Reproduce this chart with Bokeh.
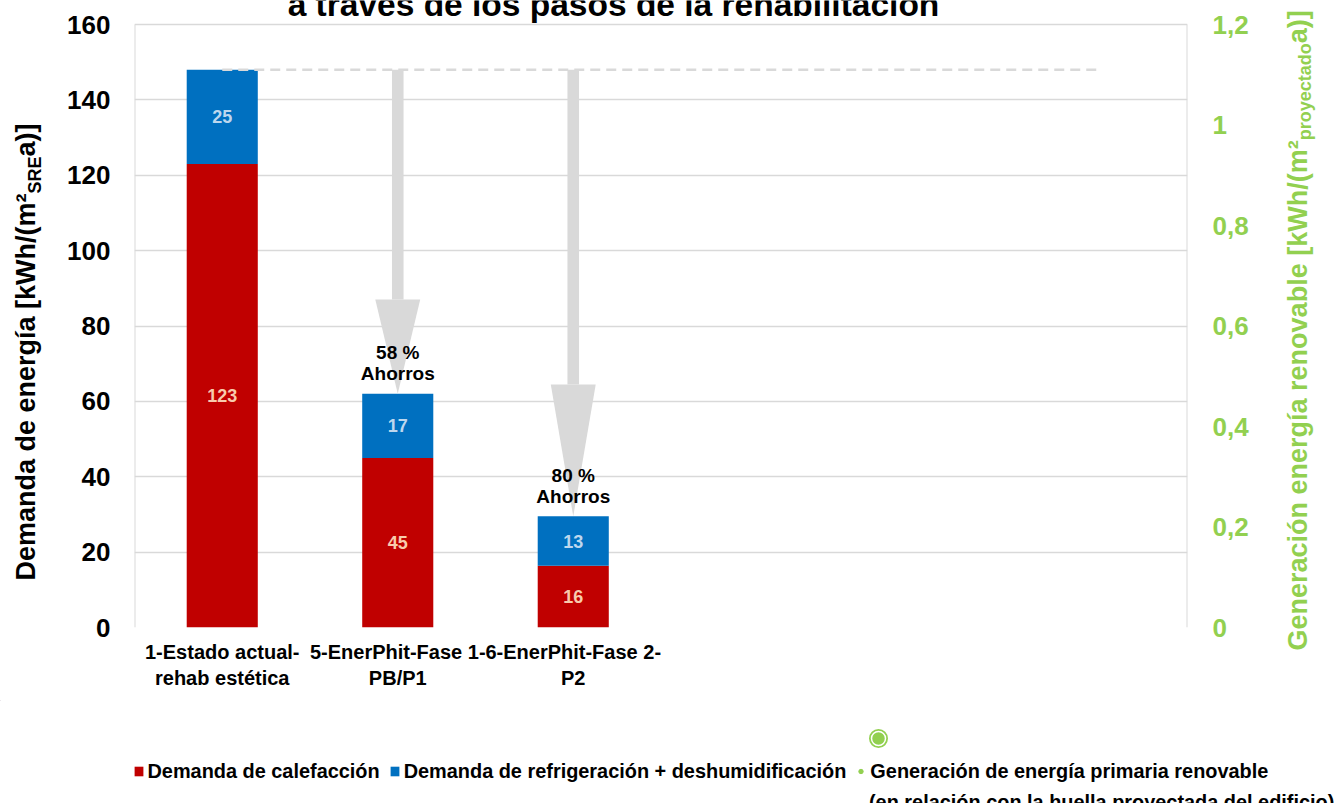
import math
from bokeh.plotting import figure
from bokeh.layouts import column, row
from bokeh.models import (Range1d, LinearAxis, FixedTicker, CustomJSTickFormatter, Label,
                          Legend, LegendItem, ColumnDataSource)
from bokeh.embed import file_html
from bokeh.resources import INLINE
from bokeh.core.properties import value

# ---------------- data ----------------
categories = ["1-Estado actual-\nrehab estética", "5-EnerPhit-Fase 1-\nPB/P1", "6-EnerPhit-Fase 2-\nP2"]
n_slots = 6  # category slots on the x axis (last three empty)
heating = [123, 45, 16.4]          # Demanda de calefacción
cooling = [25, 17, 13.1]           # Demanda de refrigeración + deshumidificación
renewable = [None, None, None]     # Generación de energía primaria renovable (no values shown)
left_ticks = [0, 20, 40, 60, 80, 100, 120, 140, 160]
right_ticks = [0, 0.2, 0.4, 0.6, 0.8, 1.0, 1.2]

title_text = "a través de los pasos de la rehabilitación"
left_title = [("Demanda de energía [kWh/(m²", "main"), ("SRE", "sub"), ("a)]", "main")]
right_title = [("Generación energía renovable [kWh/(m²", "main"), ("proyectado", "sub"), ("a)]", "main")]
legend_labels = ["Demanda de calefacción", "Demanda de refrigeración + deshumidificación",
                 "Generación de energía primaria renovable"]
legend_line2 = "(en relación con la huella proyectada del edificio)"

# ---------------- style / layout ----------------
FONT = "Liberation Sans"
RED, BLUE, GREEN, GREY = "#c00000", "#0070c0", "#92d050", "#d9d9d9"
W, H_TOTAL = 1337, 803
H_MAIN = 700                               # chart row; legend strip below it
W_LT, W_RT = 60, 77                        # strips holding the axis titles
FL, FR, FB, FT = 134, 1187, 627, 24        # plot-area edges in page px
PPU = (FB - FT) / (left_ticks[-1] - left_ticks[0])   # px per left-axis unit
y_top = left_ticks[-1] + FT / PPU                    # frame reaches canvas top (room for the title)
r_top = right_ticks[-1] * y_top / left_ticks[-1]

xs = [i + 0.5 for i in range(len(categories))]
totals = [h + c for h, c in zip(heating, cooling)]

W_MAIN = W - W_LT - W_RT
p = figure(width=W_MAIN, height=H_MAIN, x_range=Range1d(0, n_slots), y_range=Range1d(0, y_top),
           output_backend="svg", toolbar_location=None,
           min_border_left=FL - W_LT, min_border_right=W - W_RT - FR, min_border_top=0,
           min_border_bottom=H_MAIN - FB)
p.extra_y_ranges = {"ren": Range1d(0, r_top)}
p.outline_line_color = None
p.xgrid.visible = False
p.ygrid.grid_line_color = GREY
p.ygrid.grid_line_width = 1.3
p.ygrid.ticker = FixedTicker(ticks=left_ticks)


def style_axis(ax, size, color, standoff):
    ax.axis_line_color = None
    ax.major_tick_line_color = None
    ax.minor_tick_line_color = None
    ax.major_tick_out = 0
    ax.minor_tick_out = 0
    ax.major_label_standoff = standoff
    ax.major_label_text_font = FONT
    ax.major_label_text_font_style = "bold"
    ax.major_label_text_font_size = size
    ax.major_label_text_color = color


# left tick axis
ly = p.yaxis[0]
ly.ticker = FixedTicker(ticks=left_ticks)
style_axis(ly, "26px", "black", 24)

# x axis
bx = p.xaxis[0]
bx.ticker = FixedTicker(ticks=xs)
bx.formatter = CustomJSTickFormatter(args=dict(labels=categories),
                                     code="const i = Math.floor(tick); return (i < labels.length) ? labels[i] : '';")
style_axis(bx, "20px", "black", 13)

# right tick axis
ry = LinearAxis(y_range_name="ren", ticker=FixedTicker(ticks=right_ticks),
                formatter=CustomJSTickFormatter(code="return tick.toFixed(1).replace(/\\.0$/, '').replace('.', ',');"))
style_axis(ry, "26px", GREEN, 25)
p.add_layout(ry, "right")

# plot-area side borders
p.segment(x0=[0, n_slots], y0=[0, 0], x1=[0, n_slots], y1=[left_ticks[-1]] * 2, line_color=GREY, line_width=2)

# ---------------- bars ----------------
src = ColumnDataSource(dict(x=xs, heat=heating, tot=totals, cool=cooling,
                            heat_mid=[h / 2 for h in heating],
                            cool_mid=[h + c / 2 for h, c in zip(heating, cooling)],
                            heat_txt=[f"{h:.0f}" for h in heating],
                            cool_txt=[f"{c:.0f}" for c in cooling]))
BW = 0.405
r_red = p.vbar(x="x", bottom=0, top="heat", width=BW, source=src, fill_color=RED, line_color=None)
r_blue = p.vbar(x="x", bottom="heat", top="tot", width=BW, source=src, fill_color=BLUE, line_color=None)
gx = [x for x, v in zip(xs, renewable) if v is not None]
gy = [v for v in renewable if v is not None]
r_green = p.scatter(x=gx, y=gy, y_range_name="ren", size=4, color=GREEN)

# dashed reference line at the initial total
p.line(x=[xs[0], n_slots - 0.5], y=[totals[0], totals[0]], line_color=GREY, line_width=2.5, line_dash="10 6")

# savings arrows
shaft_w, head_w = 0.066, 0.256
head_len = [25, 35]
for i in range(1, len(categories)):
    x = xs[i]
    base = totals[i] + head_len[i - 1]
    p.quad(left=x - shaft_w / 2, right=x + shaft_w / 2, bottom=base, top=totals[0], fill_color=GREY, line_color=None)
    p.patch(x=[x - head_w / 2, x + head_w / 2, x], y=[base, base, totals[i]], fill_color=GREY, line_color=None)

# data labels
p.text(x="x", y="heat_mid", text="heat_txt", source=src, text_font=value(FONT), text_font_style="bold",
       text_font_size="18px", text_color="#f8cbad", text_align="center", text_baseline="middle")
p.text(x="x", y="cool_mid", text="cool_txt", source=src, text_font=value(FONT), text_font_style="bold",
       text_font_size="18px", text_color="#bdd7ee", text_align="center", text_baseline="middle")

# savings labels
sav_x, sav_y1, sav_y2, sav_t1, sav_t2 = [], [], [], [], []
for i in range(1, len(categories)):
    pct = round((1 - totals[i] / totals[0]) * 100)
    sav_x.append(xs[i])
    sav_y1.append(totals[i] + 41 / PPU)
    sav_y2.append(totals[i] + 20 / PPU)
    sav_t1.append(f"{pct} %")
    sav_t2.append("Ahorros")
for yy, tt in ((sav_y1, sav_t1), (sav_y2, sav_t2)):
    p.text(x=sav_x, y=yy, text=tt, text_font=value(FONT), text_font_style="bold", text_font_size="19px",
           text_color="black", text_align="center", text_baseline="middle")

# chart title (cut at the top edge, as in the reference)
p.add_layout(Label(x=613 - FL, y=FB - 4, x_units="screen", y_units="screen", text=title_text,
                   text_font=FONT, text_font_size="33.5px", text_font_style="bold", text_color="black",
                   text_align="center", text_baseline="alphabetic"))

# ---------------- axis-title strips (rotated text with subscripts) ----------------
AB = {' ': 278, 'D': 722, 'e': 556, 'm': 889, 'a': 556, 'n': 611, 'd': 611, 'g': 611, 'r': 389, 'í': 278,
      '[': 333, 'k': 556, 'W': 944, 'h': 611, '/': 278, '(': 333, '²': 333, 'S': 667, 'R': 722, 'E': 667,
      ')': 333, ']': 333, 'G': 778, 'c': 556, 'i': 278, 'ó': 611, 'o': 611, 'v': 556, 'b': 611, 'l': 278,
      'p': 611, 'y': 556, 't': 333}
SIZES = {"main": 27, "sub": 18}
BASE_SHIFT = 0.25   # observed offset of the rendered baseline (em)


def title_strip(width, parts, base_x, start_y, sub_dx, color):
    f = figure(width=width, height=H_MAIN, x_range=Range1d(0, width), y_range=Range1d(0, H_MAIN),
               output_backend="svg", toolbar_location=None, x_axis_location=None, y_axis_location=None,
               min_border=0)
    f.outline_line_color = None
    f.grid.visible = False
    y = H_MAIN - start_y
    for txt, kind in parts:
        size = SIZES[kind]
        bx_ = base_x + (sub_dx if kind == "sub" else 0) - BASE_SHIFT * size
        f.add_layout(Label(x=bx_, y=y, x_units="screen", y_units="screen", text=txt, angle=math.pi / 2,
                           text_font=FONT, text_font_size=f"{size}px", text_font_style="bold",
                           text_color=color, text_align="left", text_baseline="alphabetic"))
        y += sum(AB.get(c, 556) for c in txt) / 1000 * size
    return f


lstrip = title_strip(W_LT, left_title, 32.5, 580, 6, "black")
rstrip = title_strip(W_RT, right_title, 1304 - (W - W_RT), 650, 5, GREEN)

# ---------------- legend strip (page-pixel coordinates, y downwards) ----------------
H_LEG = H_TOTAL - H_MAIN
q = figure(width=W, height=H_LEG, x_range=Range1d(0, W), y_range=Range1d(H_TOTAL, H_MAIN),
           output_backend="svg", toolbar_location=None, x_axis_location=None, y_axis_location=None,
           min_border=0)
q.outline_line_color = None
q.grid.visible = False
for fig in (p, q, lstrip, rstrip):
    if "frame_align" in fig.properties():
        fig.frame_align = False

# legend proxies (outside the visible strip; only their legend glyphs show)
l_red = q.vbar(x=[-100], top=[0], width=1, fill_color=RED, line_color=None)
l_blue = q.vbar(x=[-100], top=[0], width=1, fill_color=BLUE, line_color=None)
l_green = q.scatter(x=[-100], y=[0], size=4, color=GREEN)

LEG_H = 23
LEG_FONT = "19.9px"
leg = Legend(items=[LegendItem(label=legend_labels[0], renderers=[l_red]),
                    LegendItem(label=legend_labels[1], renderers=[l_blue]),
                    LegendItem(label=legend_labels[2], renderers=[l_green])],
             orientation="horizontal", location=(132.5, H_TOTAL - (771 - LEG_H / 2) - LEG_H))
leg.label_text_font = FONT
leg.label_text_font_size = LEG_FONT
leg.label_text_font_style = "bold"
leg.label_text_color = "black"
leg.label_height = LEG_H
leg.glyph_width = 11
leg.glyph_height = 12
leg.label_standoff = 4
leg.spacing = 9
leg.padding = 0
leg.margin = 0
leg.border_line_color = None
leg.background_fill_alpha = 0
q.add_layout(leg)

# second line of the renewable legend entry
q.text(x=[868.5], y=[801], text=[legend_line2], text_font=value(FONT), text_font_style="bold",
       text_font_size=LEG_FONT, text_color="black", text_align="left", text_baseline="alphabetic")

# marker ring of the renewable series (shown above its legend entry)
q.scatter(x=[878], y=[738], size=14, fill_color=GREEN, line_color=GREEN, line_width=5)
q.scatter(x=[878], y=[738], size=14, fill_color=GREEN, line_color="white", line_width=1.5)

layout = column(row(lstrip, p, rstrip, spacing=0), q, spacing=0)
open("out.html", "w").write(file_html(layout, INLINE))
